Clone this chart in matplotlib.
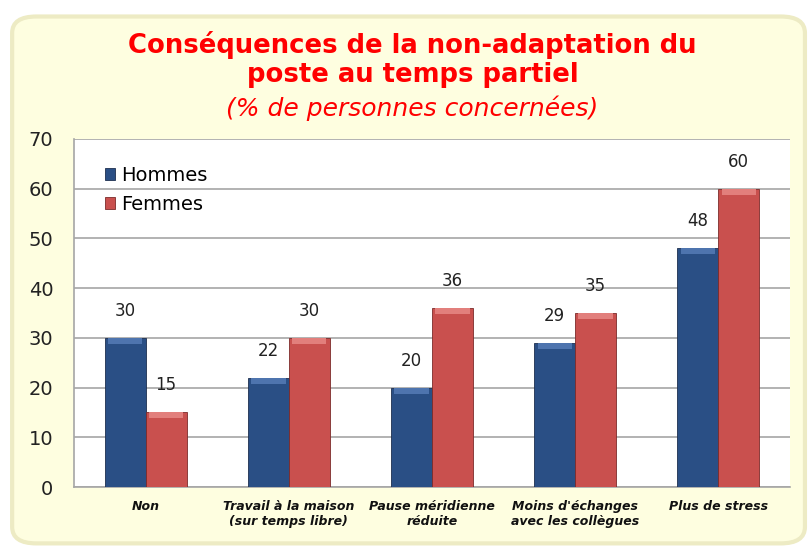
"""Bar chart: consequences of non-adapted part-time positions, men vs women."""

import matplotlib.pyplot as plt
import numpy as np
from matplotlib.patches import FancyBboxPatch


categories = [
    "Non",
    "Travail à la maison\n(sur temps libre)",
    "Pause méridienne\nréduite",
    "Moins d'échanges\navec les collègues",
    "Plus de stress",
]
hommes = [30, 22, 20, 29, 48]
femmes = [15, 30, 36, 35, 60]
yticks = [0, 10, 20, 30, 40, 50, 60, 70]

BLUE = "#2A4F85"
BLUE_TOP = "#4E74AE"
RED = "#C9504E"
RED_TOP = "#E27F7C"


def draw_series(ax, x, values, color, top_color, edge, label):
    ax.bar(x, values, width=0.286, color=color, edgecolor=edge,
           linewidth=0.6, label=label, zorder=3)
    # light bevel band on top of each bar
    ax.bar(x, [1.2] * len(values), bottom=[v - 1.2 for v in values], width=0.24,
           color=top_color, linewidth=0, zorder=4)
    for xi, v in zip(x, values):
        ax.annotate(f"{v}", (xi, v), xytext=(0, 13), textcoords="offset points",
                    ha="center", va="bottom", fontsize=12, color="#222222")


def main() -> None:
    fig = plt.figure(figsize=(8.09, 5.5), dpi=100)
    fig.patch.set_facecolor("white")

    frame = FancyBboxPatch((0.015, 0.012), 0.98, 0.958, boxstyle="round,pad=0,rounding_size=0.03",
                           transform=fig.transFigure, facecolor="#FEFEE0", edgecolor="#EDEBC4",
                           linewidth=3, zorder=-5)
    fig.patches.append(frame)

    fig.text(0.51, 0.918, "Conséquences de la non-adaptation du", ha="center", va="center",
             fontsize=18.6, fontweight="bold", color="#FF0000", family="DejaVu Sans")
    fig.text(0.51, 0.863, "poste au temps partiel", ha="center", va="center",
             fontsize=18.6, fontweight="bold", color="#FF0000", family="DejaVu Sans")
    fig.text(0.51, 0.803, "(% de personnes concernées)", ha="center", va="center",
             fontsize=18, style="italic", color="#FF0000", family="DejaVu Sans")

    ax = fig.add_axes([0.0915, 0.1145, 0.885, 0.6328])
    ax.set_zorder(2)
    ax.set_facecolor("white")

    x = np.arange(len(categories))
    draw_series(ax, x - 0.143, hommes, BLUE, BLUE_TOP, "#1d2f4f", "Hommes")
    draw_series(ax, x + 0.143, femmes, RED, RED_TOP, "#7c2b2a", "Femmes")

    ax.set_xlim(-0.5, len(categories) - 0.5)
    ax.set_ylim(0, 70)
    ax.set_yticks(yticks)
    ax.set_yticklabels([str(t) for t in yticks], fontsize=14, color="#222222")
    ax.set_xticks(x)
    ax.set_xticklabels(categories, fontsize=9, fontweight="bold", style="italic", color="#111111")
    ax.tick_params(axis="x", length=0, pad=9)
    ax.tick_params(axis="y", length=0, pad=15)
    ax.yaxis.grid(True, color="#A6A6A6", linewidth=1.2, zorder=0)
    ax.set_axisbelow(True)
    for side in ("top", "right"):
        ax.spines[side].set_visible(False)
    for side in ("left", "bottom"):
        ax.spines[side].set_color("#A6A6A6")
        ax.spines[side].set_linewidth(1.2)

    ax.legend(loc="upper left", bbox_to_anchor=(0.029, 0.95), frameon=False, fontsize=14,
              handlelength=0.55, handleheight=0.55, handletextpad=0.3, labelspacing=0.5,
              borderpad=0)

    fig.savefig("out.png", dpi=100, facecolor=fig.get_facecolor())
    plt.close(fig)


if __name__ == "__main__":
    main()
